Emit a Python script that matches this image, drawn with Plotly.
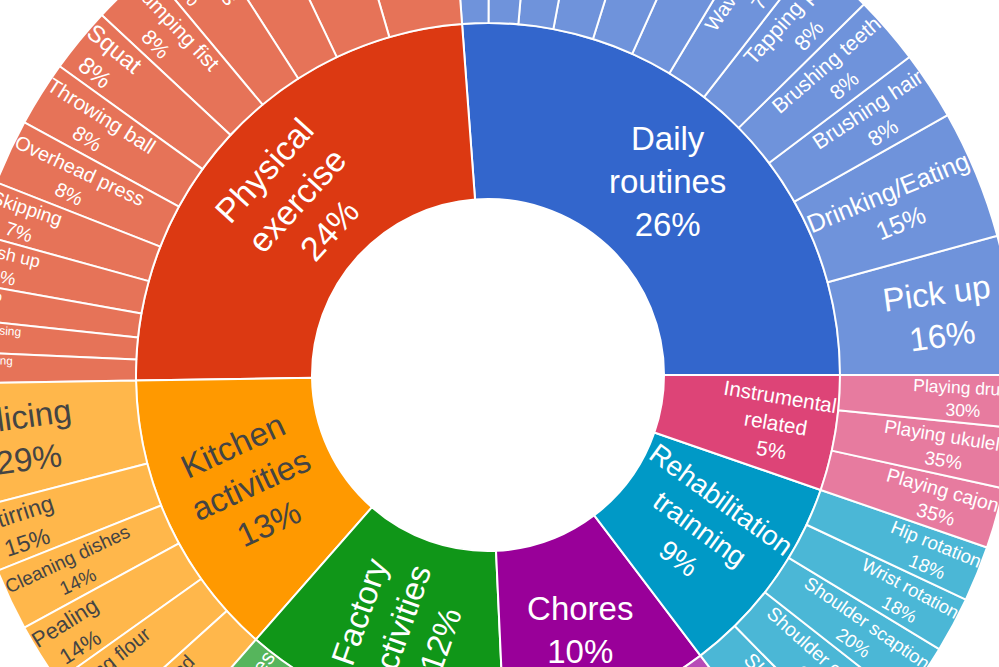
import plotly.graph_objects as go

# top level activity groups, in the order they go round the ring
groups = ["Daily<br>routines", "Physical<br>exercise", "Kitchen<br>activities",
          "Factory<br>activities", "Chores", "Rehabilitation<br>trainning",
          "Instrumental<br>related"]

# activities inside each group (values = number of recordings)
daily = ["Pick up", "Drinking/Eating", "Brushing hair", "Brushing teeth", "Tapping pen",
         "Waving hand", "Clapping", "Typing", "Writing", "Phone call",
         "Opening door", "Wearing glasses"]
daily_vals = [42.5, 39.5, 21, 21, 21, 19, 19, 19, 18.5, 16, 13.5, 12]

physical = ["Walking", "Jogging", "Jumping", "Lunges", "Pumping fist", "Squat",
            "Throwing ball", "Overhead press", "Skipping", "Push up", "Sit up",
            "Leg raising", "Stretching"]
physical_vals = [33.5, 25.5, 20, 20, 20, 20, 20, 20, 16.5, 15, 11, 10, 9.5]

kitchen = ["Slicing", "Stirring", "Cleaning dishes", "Pealing", "Sifting flour",
           "Cutting bread"]
kitchen_vals = [38, 20, 19, 19, 18.5, 18.5]

factory = ["Assembling boxes", "Using screwdriver", "Hammering", "Sawing", "Drilling"]
factory_vals = [30, 26, 24, 22, 20]

chores = ["Sweeping floor", "Mopping", "Wiping table", "Folding clothes", "Vacuuming"]
chores_vals = [22, 20, 19, 18, 17]

rehab = ["Shoulder flexion", "Shoulder elevation", "Shoulder scaption",
         "Wrist rotation", "Hip rotation"]
rehab_vals = [20.5, 20.5, 19, 17, 17]

instrument = ["Playing cajon", "Playing ukulele", "Playing drum"]
instrument_vals = [18.5, 18.5, 16]

G10 = ['#3366CC', '#DC3912', '#FF9900', '#109618', '#990099', '#0099C6',
       '#DD4477', '#66AA00', '#B82E2E', '#316395']

children = [(daily, daily_vals), (physical, physical_vals), (kitchen, kitchen_vals),
            (factory, factory_vals), (chores, chores_vals), (rehab, rehab_vals),
            (instrument, instrument_vals)]

# blank root so the middle stays empty
ids, labels, parents, values = ["all"], [" "], [""], [0]
for g in groups:
    ids.append(g)
    labels.append(g)
    parents.append("all")
    values.append(0)
for g, (names, vals) in zip(groups, children):
    for n, v in zip(names, vals):
        ids.append(g + "/" + n)
        labels.append(n)
        parents.append(g)
        values.append(v)

# "Physical exercise" runs along the arc in the original; plotly's auto mode would
# turn it radially, so that one label comes from a see-through copy of the chart
# laid on top with tangential text
turned = "Physical<br>exercise"
label_tpl = "%{label}<br>%{percentParent:.0%}"
tpl_main = [" " if i in ("all", turned) else label_tpl for i in ids]
tpl_top = [label_tpl if i == turned else " " for i in ids]

# the copy needs its own ids, plotly keeps one colour per id across traces
ids_top = ["top:" + i for i in ids]
parents_top = ["top:" + p if p else "" for p in parents]

fig = go.Figure()
fig.add_trace(go.Sunburst(
    ids=ids, labels=labels, parents=parents, values=values,
    texttemplate=tpl_main,
    sort=False,
    marker=dict(line=dict(color="white", width=2)),
    textfont=dict(size=33),
    root=dict(color="white"),
))
fig.add_trace(go.Sunburst(
    ids=ids_top, labels=labels, parents=parents_top, values=values,
    texttemplate=tpl_top,
    sort=False,
    insidetextorientation="tangential",
    marker=dict(colors=["rgba(0,0,0,0)"] * len(ids),
                line=dict(color="rgba(0,0,0,0)", width=0)),
    textfont=dict(size=34, color="white"),
    root=dict(color="rgba(0,0,0,0)"),
    hoverinfo="skip",
))

fig.update_layout(width=1056, height=1056,
                  margin=dict(l=0, r=0, t=0, b=0),
                  sunburstcolorway=G10,
                  font=dict(family="Liberation Sans, Arial, sans-serif"),
                  paper_bgcolor="white")

# the reference only shows part of a big chart, so shift the page view onto it
shift = """
var gd = document.getElementById('{plot_id}');
document.documentElement.style.overflow = 'hidden';
document.body.style.margin = '0';
gd.style.position = 'absolute';
gd.style.left = '-40px';
gd.style.top = '-153px';
"""

fig.write_html("out.html", post_script=shift)
